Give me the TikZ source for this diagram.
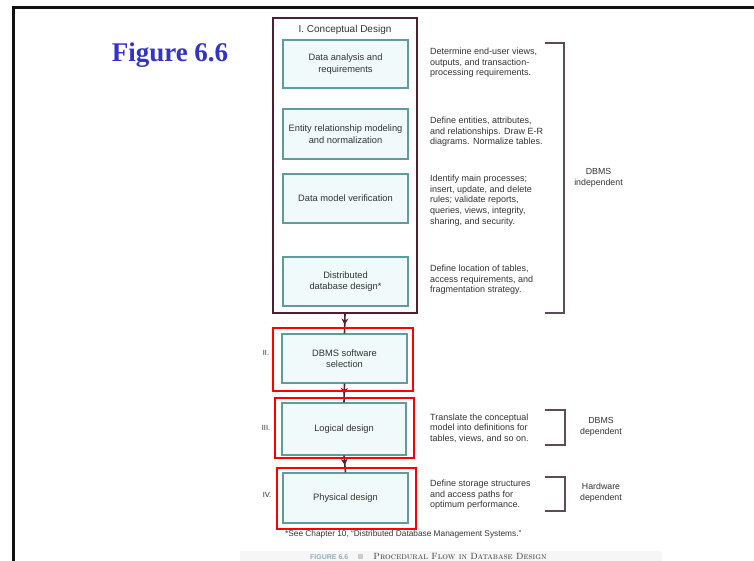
\documentclass[tikz,border=0pt]{standalone}
\usepackage{fontspec}
\newfontfamily\dsans{Liberation Sans}
\newfontfamily\dserif{Liberation Serif}
\usetikzlibrary{arrows.meta,decorations.markings}
\definecolor{frameblack}{HTML}{111111}
\definecolor{darkmaroon}{HTML}{4A2232}
\definecolor{tealb}{HTML}{5E9C9E}
\definecolor{cyanfill}{HTML}{F0FAFA}
\definecolor{figblue}{HTML}{3333CC}
\definecolor{brk}{HTML}{5E4A58}
\definecolor{txtgray}{HTML}{333333}
\definecolor{capteal}{HTML}{8FB3BC}
\begin{document}
\begin{tikzpicture}[x=1pt,y=-1pt,
  stepbox/.style={draw=tealb, line width=1.4pt, fill=cyanfill, minimum width=125pt, inner sep=0pt, align=center, font=\dsans\fontsize{9.3}{11.5}\selectfont, text=txtgray},
  desc/.style={anchor=west, align=left, inner sep=0pt, font=\dsans\fontsize{9}{10.6}\selectfont, text=txtgray},
  side/.style={align=center, inner sep=0pt, font=\dsans\fontsize{8.8}{11}\selectfont, text=txtgray},
  num/.style={inner sep=0pt, font=\dsans\fontsize{7.5}{8}\selectfont, text=txtgray},
  hl/.style={draw=red, line width=2.8pt, inner sep=0pt},
  conn/.style={draw=darkmaroon, line width=1.6pt, postaction={decorate}, decoration={markings, mark=at position 0.55 with {\arrow[darkmaroon]{Stealth[length=6pt,width=7pt]}}}},
  brace/.style={draw=brk, line width=2pt},
]
\useasboundingbox (0,0) rectangle (754,561);
\fill[white] (0,0) rectangle (754,561);
\fill[gray!7] (240,551) rectangle (662,561);
% slide frame
\draw[frameblack, line width=2.5pt] (13.5,561) -- (13.5,7.5) -- (754,7.5);
% title
\node[anchor=base, inner sep=0pt, font=\dserif\bfseries\fontsize{27}{30}\selectfont, text=figblue] (fig) at (170,62) {Figure 6.6};
% conceptual design outer box
\node[draw=darkmaroon, line width=1.8pt, minimum width=144pt, minimum height=295pt, inner sep=0pt] (cd) at (345,165.5) {};
\node[inner sep=0pt, font=\dsans\fontsize{10}{12}\selectfont, text=txtgray] (cdt) at (345,30) {I. Conceptual Design};
\node[stepbox, minimum height=48pt] (da) at (345.5,64) {Data analysis and\\requirements};
\node[stepbox, minimum height=50pt] (er) at (345.5,134) {Entity relationship modeling\\and normalization};
\node[stepbox, minimum height=49pt] (dm) at (345.5,198.5) {Data model verification};
\node[stepbox, minimum height=49pt] (dd) at (345.5,281.5) {Distributed\\database design*};
% later phases
\node[stepbox, minimum height=49pt] (ii) at (344.5,358.5) {DBMS software\\selection};
\node[stepbox, minimum height=52pt, minimum width=124pt] (iii) at (344,429) {Logical design};
\node[stepbox, minimum height=50pt] (iv) at (345.5,498) {Physical design};
\node[num] (nii) at (266,353) {II.};
\node[num] (niii) at (266,428) {III.};
\node[num] (niv) at (267,495) {IV.};
% connectors
\draw[conn] (cd.south) -- (ii.north);
\draw[conn] (ii.south) -- (iii.north);
\draw[conn] (iii.south) -- (iv.north);
% descriptions
\node[desc] (d1) at (430,63) {Determine end-user views,\\outputs, and transaction-\\processing requirements.};
\node[desc] (d2) at (430,132) {Define entities, attributes,\\and relationships. Draw E-R\\diagrams. Normalize tables.};
\node[desc] (d3) at (430,200.5) {Identify main processes;\\insert, update, and delete\\rules; validate reports,\\queries, views, integrity,\\sharing, and security.};
\node[desc] (d4) at (430,280) {Define location of tables,\\access requirements, and\\fragmentation strategy.};
\node[desc] (d5) at (430,428) {Translate the conceptual\\model into definitions for\\tables, views, and so on.};
\node[desc] (d6) at (430,495) {Define storage structures\\and access paths for\\optimum performance.};
% brackets
\draw[brace] (545,43) -- (564,43) -- (564,313) -- (545,313);
\draw[brace] (545,410) -- (565,410) -- (565,445) -- (545,445);
\draw[brace] (545,477) -- (565,477) -- (565,511) -- (545,511);
\node[side] (s1) at (598.5,177.5) {DBMS\\independent};
\node[side] (s2) at (601,426.5) {DBMS\\dependent};
\node[side] (s3) at (601,492.5) {Hardware\\dependent};
% red highlights
\node[hl, minimum width=140pt, minimum height=63pt] (hii) at (343,359.5) {};
\node[hl, minimum width=139pt, minimum height=60pt] (hiii) at (344.5,428) {};
\node[hl, minimum width=139pt, minimum height=61pt] (hiv) at (346.5,498.5) {};
% footnote and caption
\node[anchor=west, inner sep=0pt, font=\dsans\fontsize{8.3}{9}\selectfont, text=txtgray] (fn) at (285,534) {*See Chapter 10, “Distributed Database Management Systems.”};
\node[anchor=west, inner sep=0pt, text=txtgray] (cap) at (310,556) {{\dsans\bfseries\fontsize{7}{8}\selectfont\color{capteal}FIGURE 6.6}\quad{\color{gray!40}\rule{5pt}{5pt}}\quad{\fontsize{9}{10}\selectfont\textsc{Procedural Flow in Database Design}}};
\end{tikzpicture}
\end{document}
